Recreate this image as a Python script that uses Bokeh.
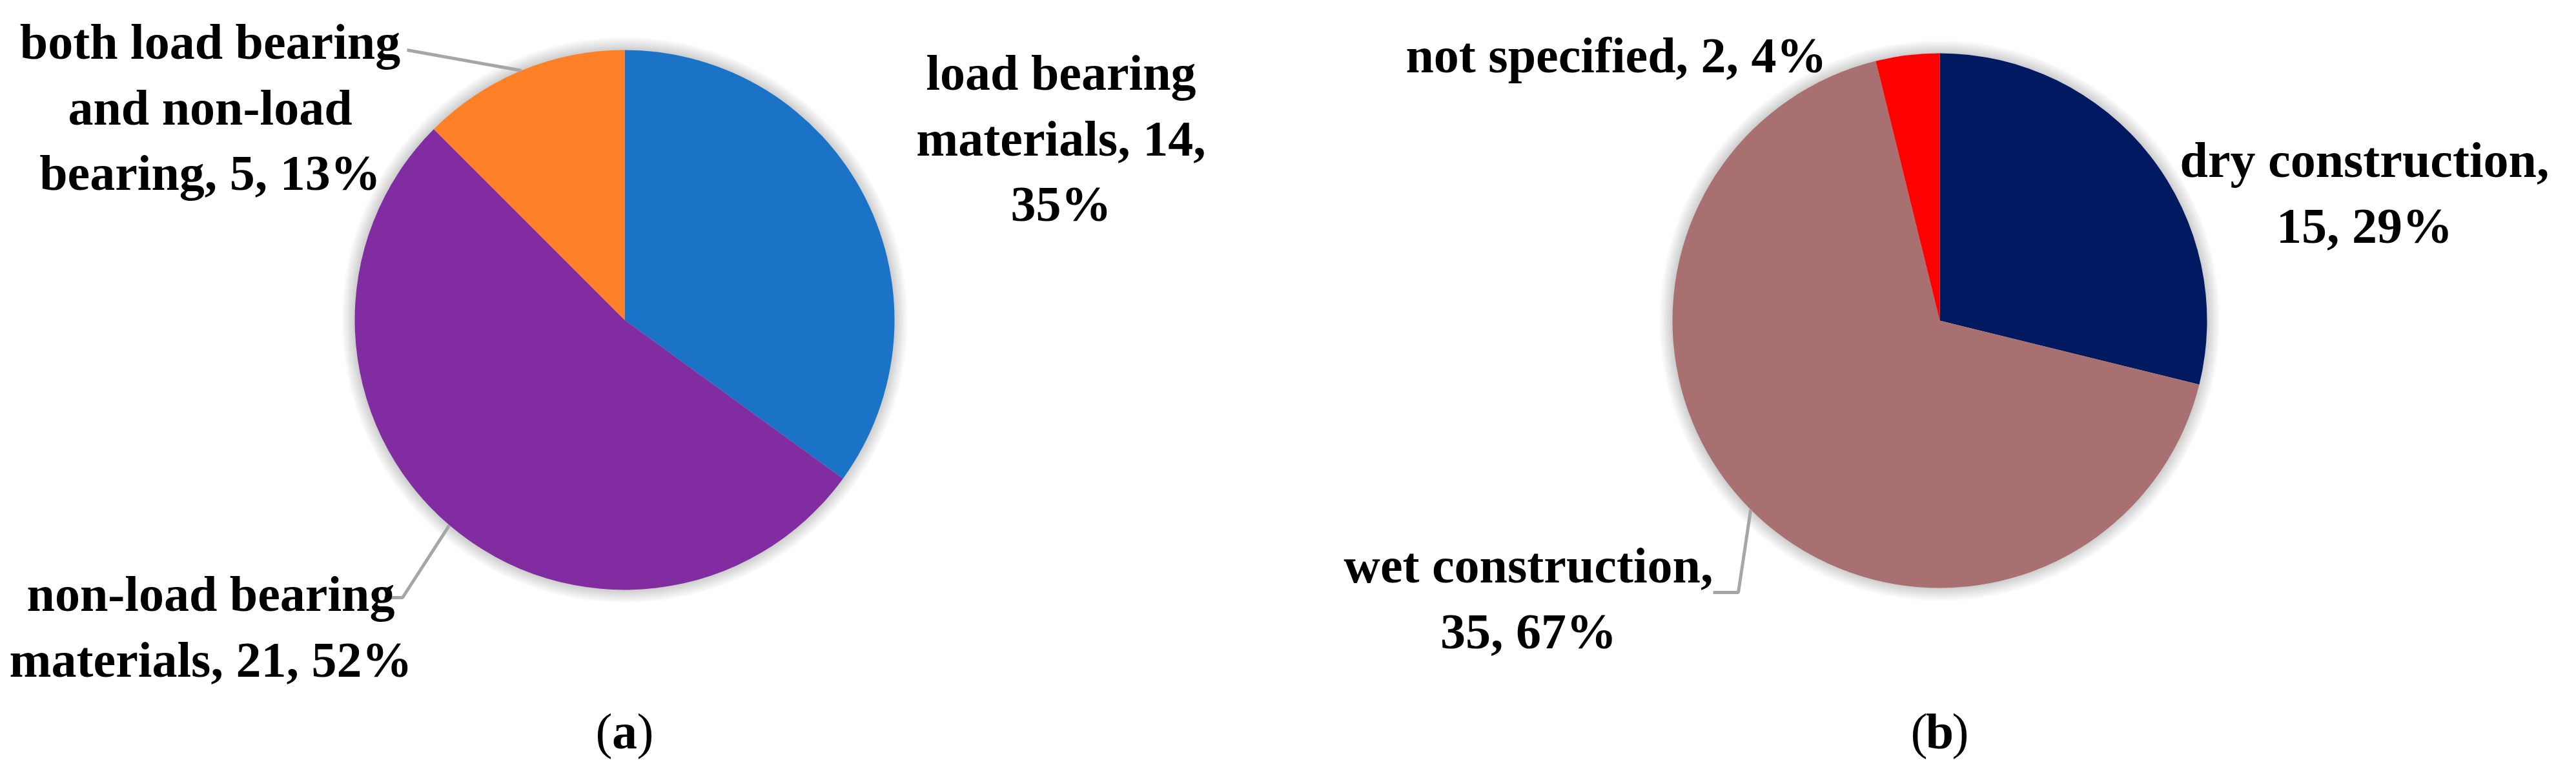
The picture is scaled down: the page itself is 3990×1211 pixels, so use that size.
import math
import textwrap
from bokeh.plotting import figure
from bokeh.models import Range1d
from bokeh.embed import file_html
from bokeh.resources import INLINE
from bokeh.core.properties import value

# ---------------- data ----------------
cats_a = ["load bearing materials", "non-load bearing materials",
          "both load bearing and non-load bearing"]
counts_a = [14, 21, 5]
pcts_a = [35, 52, 13]
colors_a = ["#1A73C6", "#812CA0", "#FD7F26"]

cats_b = ["dry construction", "wet construction", "not specified"]
counts_b = [15, 35, 2]
pcts_b = [29, 67, 4]
colors_b = ["#001960", "#A87070", "#FF0000"]

panel_tags = ["a", "b"]

# ---------------- layout (screen pixels, y downward) ----------------
PAGE_W, PAGE_H = 3990, 1211
OFF = 8
FIG_W, FIG_H = 3970, 1195

FONT = value("Liberation Serif")
FSIZE = "78px"
LINE_H = 101.5
TEXT_DY = -10          # correction of rendered baseline
LEADER_COLOR = "#A6A6A6"

pies = [
    dict(cats=cats_a, counts=counts_a, pcts=pcts_a, colors=colors_a,
         cx=975, cy=503, r=418, tag_y=1150,
         wraps=[14, 18, 17],
         label_pos=[(1651, 130), (334, 937), (333, 82)],
         leaders=[None, [(603, 933), (631, 933)], [(638, 85)]]),
    dict(cats=cats_b, counts=counts_b, pcts=pcts_b, colors=colors_b,
         cx=3012, cy=504, r=414, tag_y=1150,
         wraps=[17, 17, 30],
         label_pos=[(3670, 265), (2375, 893), (2511, 103)],
         leaders=[None, [(2661, 925), (2700, 925)], None]),
]


def fy(Y):
    return PAGE_H - Y


def ft(Y):
    return PAGE_H - (Y + TEXT_DY)


p = figure(width=FIG_W, height=FIG_H,
           x_range=Range1d(OFF, OFF + FIG_W),
           y_range=Range1d(PAGE_H - (OFF + FIG_H), PAGE_H - OFF),
           output_backend="svg", toolbar_location=None,
           x_axis_location=None, y_axis_location=None,
           min_border=0)
p.grid.visible = False
p.outline_line_color = None
p.background_fill_color = "white"
p.border_fill_color = "white"

for pie, tag in zip(pies, panel_tags):
    cx, cy, r = pie["cx"], pie["cy"], pie["r"]
    total = float(sum(pie["counts"]))

    # soft shadow / glow
    for k in range(1, 13):
        p.circle(x=[cx], y=[fy(cy)], radius=r + k * 1.7,
                 fill_color="black", fill_alpha=0.016, line_color=None)

    starts, ends, mids = [], [], []
    cum = 0.0
    for c in pie["counts"]:
        a0 = math.pi / 2 - 2 * math.pi * cum / total
        cum += c
        a1 = math.pi / 2 - 2 * math.pi * cum / total
        starts.append(a1)
        ends.append(a0)
        mids.append((a0 + a1) / 2)

    n = len(pie["counts"])
    p.wedge(x=[cx] * n, y=[fy(cy)] * n, radius=r,
            start_angle=starts, end_angle=ends,
            fill_color=pie["colors"], line_color=None)

    # leader lines
    for i, pts in enumerate(pie["leaders"]):
        if pts is None:
            continue
        ex = cx + r * math.cos(mids[i])
        ey = cy - r * math.sin(mids[i])
        xs = [q[0] for q in pts] + [ex]
        ys = [fy(q[1]) for q in pts] + [fy(ey)]
        p.line(xs, ys, line_color=LEADER_COLOR, line_width=5)

    # data labels
    tx, ty, tt = [], [], []
    for i, cat in enumerate(pie["cats"]):
        label = f"{cat}, {pie['counts'][i]}, {pie['pcts'][i]}%"
        lines = textwrap.wrap(label, width=pie["wraps"][i])
        lx, ly = pie["label_pos"][i]
        for j, ln in enumerate(lines):
            tx.append(lx)
            ty.append(ft(ly + j * LINE_H))
            tt.append(ln)
    p.text(x=tx, y=ty, text=tt, text_font=FONT, text_font_style="bold",
           text_font_size=FSIZE, text_align="center",
           text_baseline="alphabetic", text_color="black")

    # panel tag "(a)" / "(b)"
    half = 19
    ty_tag = ft(pie["tag_y"])
    p.text(x=[cx - half], y=[ty_tag], text=["("], text_font=FONT,
           text_font_size=FSIZE, text_align="right",
           text_baseline="alphabetic", text_color="black")
    p.text(x=[cx], y=[ty_tag], text=[tag], text_font=FONT,
           text_font_style="bold", text_font_size=FSIZE, text_align="center",
           text_baseline="alphabetic", text_color="black")
    p.text(x=[cx + half], y=[ty_tag], text=[")"], text_font=FONT,
           text_font_size=FSIZE, text_align="left",
           text_baseline="alphabetic", text_color="black")

open("out.html", "w").write(file_html(p, INLINE))
